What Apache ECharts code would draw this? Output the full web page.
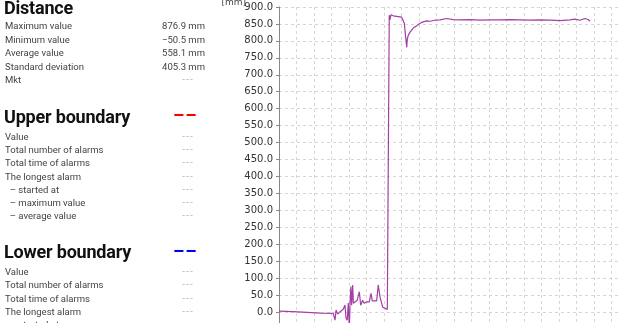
<!DOCTYPE html>
<html>
<head>
<meta charset="utf-8">
<script src="https://cdn.jsdelivr.net/npm/echarts@6/dist/echarts.min.js"></script>
<style>
html,body{margin:0;padding:0;width:620px;height:323px;overflow:hidden;background:#fff;}
#panel{position:absolute;left:0;top:0;width:215px;height:323px;font-family:Roboto,"Noto Sans",sans-serif;}
.h{position:absolute;left:4px;font-weight:700;font-size:18px;color:#111;line-height:18px;letter-spacing:-0.2px;}
.r{position:absolute;left:5px;width:200px;font-size:9.5px;color:#444;line-height:12px;}
.r .v{position:absolute;right:0;top:0;}
.r .d{position:absolute;left:171px;width:24px;text-align:center;color:#aaa;top:0;letter-spacing:1px;font-variant-ligatures:none;font-family:"DejaVu Sans";font-size:8px;}
.mark{position:absolute;left:173px;font-weight:700;font-size:18px;line-height:18px;letter-spacing:1px;}
#chart{position:absolute;left:0;top:0;width:640px;height:340px;}
#unit{position:absolute;left:206px;top:-3px;width:40px;text-align:right;font-family:"DejaVu Sans";font-size:9px;color:#444;line-height:11px;white-space:nowrap;}
</style>
</head>
<body>
<div id="chart"></div>
<div id="panel"></div>
<div id="unit"></div>
<script>
// ---- data ----
const distanceRows = [["Maximum value","876.9 mm"],["Minimum value","\u221250.5 mm"],["Average value","558.1 mm"],["Standard deviation","405.3 mm"],["Mkt","---"]];
const boundaryRowsUpper = ["Value","Total number of alarms","Total time of alarms","The longest alarm","  \u2013 started at","  \u2013 maximum value","  \u2013 average value"];
const boundaryRowsLower = ["Value","Total number of alarms","Total time of alarms","The longest alarm","  \u2013 started at"];
const yTicks = {min:-50, max:900, interval:50};
const unitLabel = "[mm]";
const times = [0,0.8,1.6,2.4,3.10,3.2,3.26,3.35,3.49,3.67,3.77,3.83,3.90,3.96,4.02,4.06,4.11,4.15,4.21,4.25,4.34,4.47,4.59,4.67,4.78,4.86,5.01,5.16,5.26,5.33,5.58,5.67,5.77,5.93,6.19,6.25,6.30,6.34,6.40,6.53,6.63,7.01,7.10,7.16,7.22,7.30,7.33,7.39,7.49,7.58,7.67,7.87,8.06,8.23,8.44,8.63,8.91,9.2,9.58,9.94,10.34,10.91,11.49,12.06,12.63,13.2,13.77,14.34,14.91,15.49,16.06,16.63,16.91,17.2,17.49,17.66,17.77];
const distance = [3,1,-1,-3,-4,-24,6,-6,1,8,21,-18,-24,27,-50.5,27,75,20,80,26,30,35,60,20,35,26,30,30,55,33,33,80,45,14,8,6,876,862,876.9,874,871,870,872,852,820,781,805,817,826,831,838,845,852,856,859,858,861,862,866,863,862,863,861,862,862,863,862,861,862,861,860,862,864,861,866,863,858];

// ---- left panel ----
const panel = document.getElementById('panel');
function add(html){ panel.insertAdjacentHTML('beforeend', html); }
add('<div class="h" style="top:-1px">Distance</div>');
distanceRows.forEach((r,i)=>{
  const y = 20 + i*13.5;
  const val = r[1]==='---' ? '<span class="d">'+r[1]+'</span>' : '<span class="v">'+r[1]+'</span>';
  add('<div class="r" style="top:'+y+'px">'+r[0]+val+'</div>');
});
add('<div class="h" style="top:108px">Upper boundary</div><div class="mark" style="top:106px;color:#f00">\u2013\u2013</div>');
boundaryRowsUpper.forEach((t,i)=>{
  const y = 131 + i*13.2;
  add('<div class="r" style="top:'+y+'px;white-space:pre">'+t+'<span class="d">---</span></div>');
});
add('<div class="h" style="top:243px">Lower boundary</div><div class="mark" style="top:242px;color:#00f">\u2013\u2013</div>');
boundaryRowsLower.forEach((t,i)=>{
  const y = 266 + i*13.3;
  add('<div class="r" style="top:'+y+'px;white-space:pre">'+t+'<span class="d">---</span></div>');
});
document.getElementById('unit').textContent = unitLabel;

// ---- chart ----
const chart = echarts.init(document.getElementById('chart'), null, {renderer:'canvas'});
const dashed = {show:true, lineStyle:{type:[3,3], color:'#d6d6d6', width:1}};
chart.setOption({
  animation:false,
  grid:{left:279, top:7, width:350, height:322, containLabel:false, outerBoundsMode:'none'},
  xAxis:{type:'value', min:0, max:20, interval:1, axisLine:{show:false}, axisTick:{show:false}, axisLabel:{show:false}, splitLine:dashed},
  yAxis:{type:'value', min:yTicks.min, max:yTicks.max, interval:yTicks.interval,
    axisLine:{show:true, lineStyle:{color:'#888', width:1}},
    axisTick:{show:true, length:3, lineStyle:{color:'#888'}},
    axisLabel:{color:'#333', fontFamily:'DejaVu Sans', fontSize:10, margin:6, formatter:v=> v<0 ? '' : v.toFixed(1)},
    splitLine:dashed},
  series:[{type:'line', data:times.map((t,i)=>[t,distance[i]]), showSymbol:false, symbol:'none',
    lineStyle:{color:'#a43ea8', width:1.2}, itemStyle:{color:'#a43ea8'}}]
});
</script>
</body>
</html>
